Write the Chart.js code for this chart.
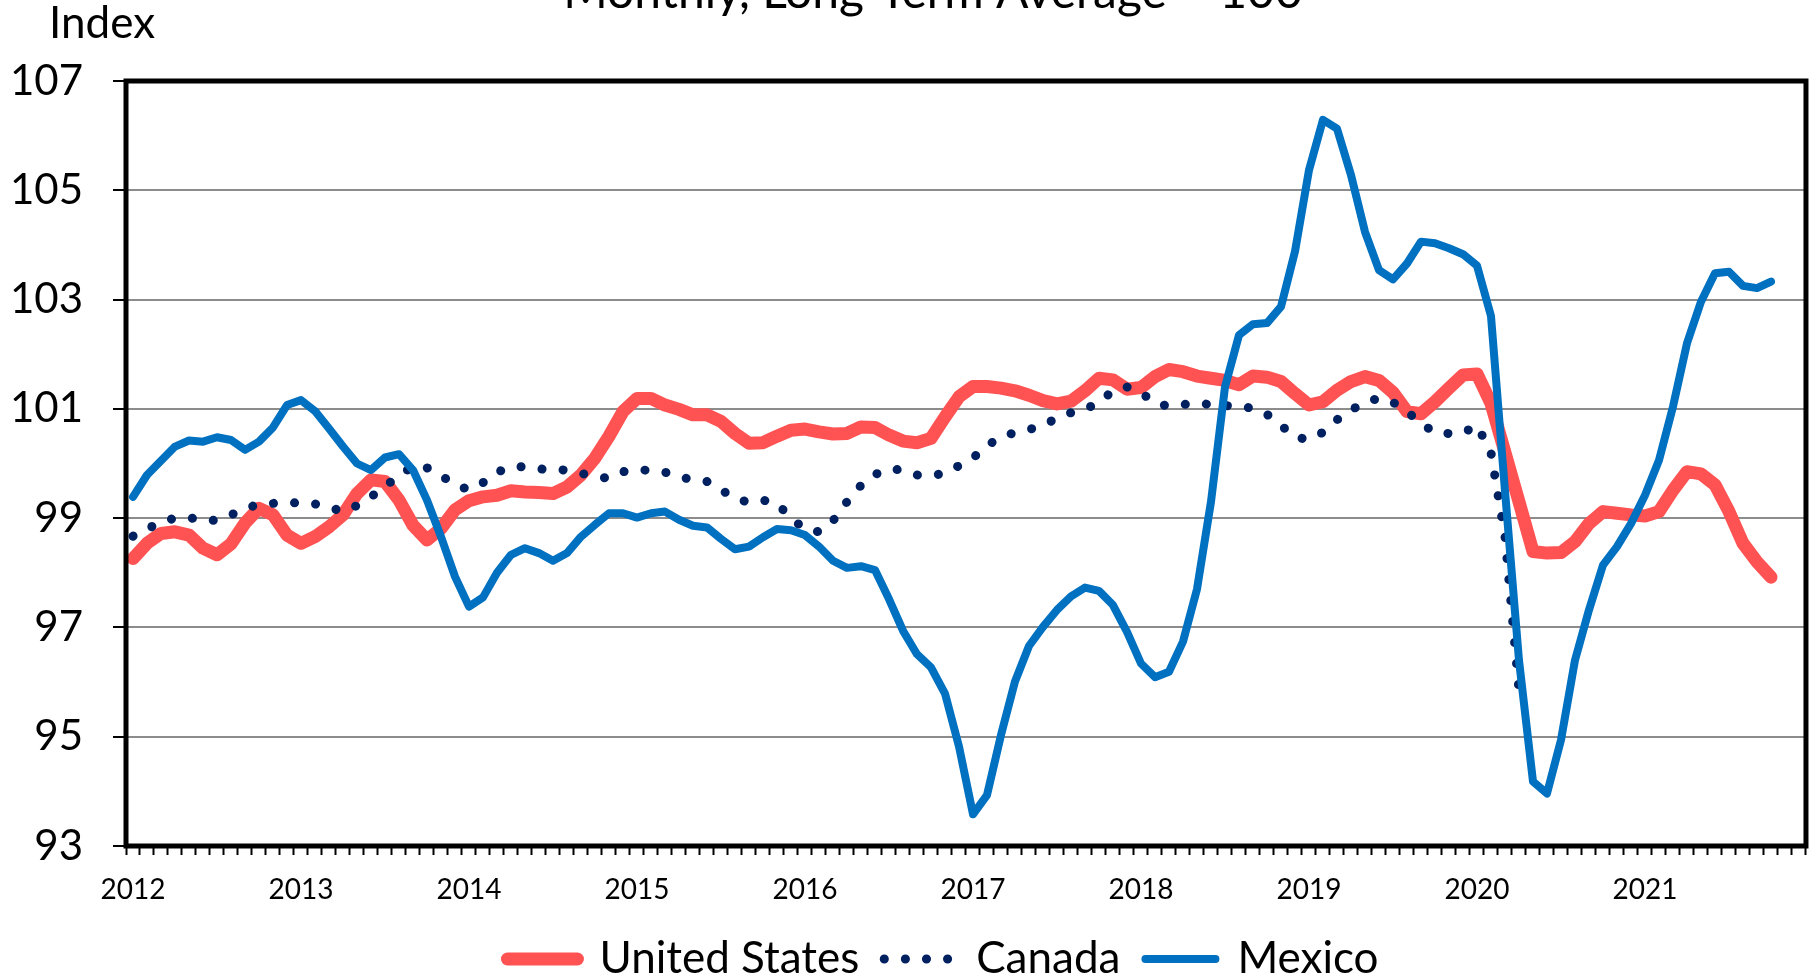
<!DOCTYPE html>
<html>
<head>
<meta charset="utf-8">
<title>Leading Indicators</title>
<script src="https://cdn.jsdelivr.net/npm/chart.js@4.4.0/dist/chart.umd.min.js"></script>
<style>
    html, body { margin: 0; padding: 0; background: #fff; overflow: hidden; }
    #wrap { position: relative; width: 1817px; height: 991px; }
</style>
</head>
<body>
<div id="wrap"><canvas id="cli-chart"></canvas></div>
<script>
const years = ['2012', '2013', '2014', '2015', '2016', '2017', '2018', '2019', '2020', '2021'];

const usIndex = [
    98.26, 98.54, 98.72, 98.75, 98.69, 98.45, 98.33, 98.53, 98.91, 99.18, 99.06, 98.69,
    98.54, 98.66, 98.84, 99.06, 99.45, 99.70, 99.67, 99.33, 98.87, 98.60, 98.81, 99.15,
    99.32, 99.39, 99.42, 99.50, 99.48, 99.47, 99.45, 99.57, 99.79, 100.10, 100.50, 100.95,
    101.19, 101.19, 101.07, 100.99, 100.89, 100.89, 100.77, 100.55, 100.37, 100.38, 100.50, 100.61,
    100.63, 100.58, 100.54, 100.55, 100.67, 100.66, 100.52, 100.41, 100.38, 100.46, 100.85, 101.22,
    101.41, 101.41, 101.38, 101.33, 101.25, 101.15, 101.09, 101.14, 101.33, 101.56, 101.53, 101.36,
    101.39, 101.59, 101.72, 101.68, 101.60, 101.56, 101.52, 101.44, 101.60, 101.58, 101.50, 101.28,
    101.07, 101.13, 101.34, 101.50, 101.59, 101.52, 101.30, 100.95, 100.91, 101.13, 101.38, 101.62,
    101.64, 101.10, 100.20, 99.30, 98.39, 98.36, 98.37, 98.57, 98.90, 99.12, 99.09, 99.06,
    99.04, 99.12, 99.51, 99.85, 99.81, 99.61, 99.12, 98.54, 98.20, 97.92
];

const canadaIndex = [
    98.67, 98.80, 98.93, 99.00, 99.01, 98.96, 98.96, 99.06, 99.17, 99.26, 99.27, 99.28,
    99.28, 99.26, 99.20, 99.12, 99.23, 99.39, 99.58, 99.78, 99.95, 99.92, 99.78, 99.61,
    99.52, 99.65, 99.84, 99.94, 99.94, 99.90, 99.89, 99.88, 99.82, 99.76, 99.73, 99.85,
    99.89, 99.87, 99.84, 99.76, 99.70, 99.67, 99.52, 99.36, 99.29, 99.33, 99.27, 99.00,
    98.80, 98.75, 98.95, 99.30, 99.60, 99.80, 99.90, 99.88, 99.79, 99.78, 99.82, 99.96,
    100.10, 100.33, 100.48, 100.57, 100.62, 100.70, 100.83, 100.93, 100.99, 101.12, 101.33, 101.40,
    101.30, 101.10, 101.05, 101.08, 101.10, 101.08, 101.06, 101.05, 101.01, 100.90, 100.70, 100.48,
    100.44, 100.57, 100.80, 100.98, 101.11, 101.20, 101.12, 100.95, 100.74, 100.56, 100.55, 100.56,
    100.70, 100.20, 98.66, 95.85
];

const mexicoIndex = [
    99.39, 99.79, 100.05, 100.31, 100.42, 100.40, 100.48, 100.43, 100.25, 100.40, 100.66, 101.07,
    101.16, 100.96, 100.64, 100.31, 100.00, 99.88, 100.11, 100.17, 99.88, 99.33, 98.66, 97.93,
    97.38, 97.55, 98.00, 98.33, 98.45, 98.36, 98.22, 98.36, 98.66, 98.88, 99.09, 99.09,
    99.01, 99.09, 99.12, 98.97, 98.86, 98.83, 98.62, 98.43, 98.48, 98.65, 98.80, 98.78,
    98.69, 98.48, 98.22, 98.09, 98.12, 98.05, 97.52, 96.94, 96.51, 96.27, 95.79, 94.82,
    93.58, 93.93, 95.03, 96.01, 96.66, 97.01, 97.32, 97.57, 97.73, 97.67, 97.41, 96.92,
    96.34, 96.09, 96.19, 96.74, 97.70, 99.30, 101.40, 102.35, 102.55, 102.57, 102.87, 103.88,
    105.37, 106.29, 106.13, 105.28, 104.24, 103.54, 103.37, 103.66, 104.06, 104.03, 103.94, 103.83,
    103.62, 102.70, 99.50, 96.40, 94.18, 93.96, 94.94, 96.40, 97.32, 98.14, 98.48, 98.90,
    99.42, 100.06, 101.04, 102.20, 102.96, 103.48, 103.51, 103.25, 103.21, 103.33
];

// one category per month, Jan 2012 .. Dec 2021
const months = [];
years.forEach(y => {
    for (let m = 1; m <= 12; m++) months.push(y + '-' + String(m).padStart(2, '0'));
});

const FONT = 'Lato';
Chart.defaults.font.family = FONT;
Chart.defaults.color = '#000';

// thick frame round the plot area
const plotFrame = {
    id: 'plotFrame',
    afterDatasetsDraw(chart) {
        const { ctx, chartArea: a } = chart;
        ctx.save();
        ctx.strokeStyle = '#000';
        ctx.lineWidth = 5;
        ctx.strokeRect(a.left, a.top, a.right - a.left, a.bottom - a.top);
        ctx.restore();
    }
};

// cut-off title and the "Index" unit label
const captions = {
    id: 'captions',
    afterDraw(chart) {
        const ctx = chart.ctx;
        ctx.save();
        ctx.fillStyle = '#000';
        ctx.textBaseline = 'alphabetic';
        ctx.textAlign = 'center';
        ctx.font = '48px ' + FONT;
        ctx.fillText('Monthly, Long-Term Average = 100', 933, 8);
        ctx.textAlign = 'left';
        ctx.font = '44px ' + FONT;
        ctx.fillText('Index', 49, 38);
        ctx.restore();
    }
};

// legend sits a little right of the canvas centre
const legendShift = {
    id: 'legendShift',
    afterLayout(chart) {
        if (chart.legend) chart.legend.left += 74;
    }
};

new Chart(document.getElementById('cli-chart'), {
    type: 'line',
    data: {
        labels: months,
        datasets: [
            {
                label: 'United States',
                data: usIndex,
                borderColor: '#FF5353',
                backgroundColor: '#FF5353',
                borderWidth: 13,
                borderJoinStyle: 'round',
                borderCapStyle: 'round',
                pointRadius: 0,
                tension: 0,
                order: 3
            },
            {
                label: 'Canada',
                data: canadaIndex,
                borderColor: '#002060',
                backgroundColor: '#002060',
                borderWidth: 9,
                borderDash: [0.1, 21],
                borderCapStyle: 'round',
                borderJoinStyle: 'round',
                pointRadius: 0,
                tension: 0,
                order: 2
            },
            {
                label: 'Mexico',
                data: mexicoIndex,
                borderColor: '#0070C0',
                backgroundColor: '#0070C0',
                borderWidth: 8,
                borderJoinStyle: 'round',
                borderCapStyle: 'round',
                pointRadius: 0,
                tension: 0,
                order: 1
            }
        ]
    },
    options: {
        responsive: true,
        maintainAspectRatio: false,
        animation: false,
        layout: {
            padding: { top: 81, right: 5, left: 0, bottom: 0 }
        },
        plugins: {
            tooltip: { enabled: false },
            legend: {
                position: 'bottom',
                labels: {
                    usePointStyle: true,
                    pointStyle: 'line',
                    pointStyleWidth: 70,
                    padding: 25,
                    color: '#000',
                    font: { size: 44 },
                    sort: (a, b) => a.datasetIndex - b.datasetIndex,
                    generateLabels(chart) {
                        const items = Chart.defaults.plugins.legend.labels.generateLabels(chart);
                        items.forEach(item => {
                            const ds = chart.data.datasets[item.datasetIndex];
                            item.strokeStyle = ds.borderColor;
                            item.lineWidth = ds.borderWidth;
                            item.lineDash = ds.borderDash || [];
                            item.lineCap = 'round';
                        });
                        return items;
                    }
                }
            }
        },
        scales: {
            x: {
                offset: true,
                border: { display: false },
                grid: {
                    offset: true,
                    drawOnChartArea: false,
                    tickLength: 9,
                    tickColor: '#000',
                    tickWidth: 2
                },
                ticks: {
                    autoSkip: false,
                    maxRotation: 0,
                    minRotation: 0,
                    padding: 18,
                    color: '#000',
                    font: { size: 28 },
                    callback: function(value, index) {
                        return index % 12 === 0 ? years[index / 12] : '';
                    }
                },
                afterFit(scale) { scale.height = 66; }
            },
            y: {
                min: 93,
                max: 107,
                border: { display: false },
                grid: {
                    color: '#8c8c8c',
                    lineWidth: 2,
                    tickColor: '#000',
                    tickLength: 13,
                    tickWidth: 2
                },
                ticks: {
                    stepSize: 2,
                    padding: 30,
                    color: '#000',
                    font: { size: 42 }
                },
                afterFit(scale) { scale.width = 126; }
            }
        }
    },
    plugins: [plotFrame, captions, legendShift]
});
</script>
</body>
</html>
